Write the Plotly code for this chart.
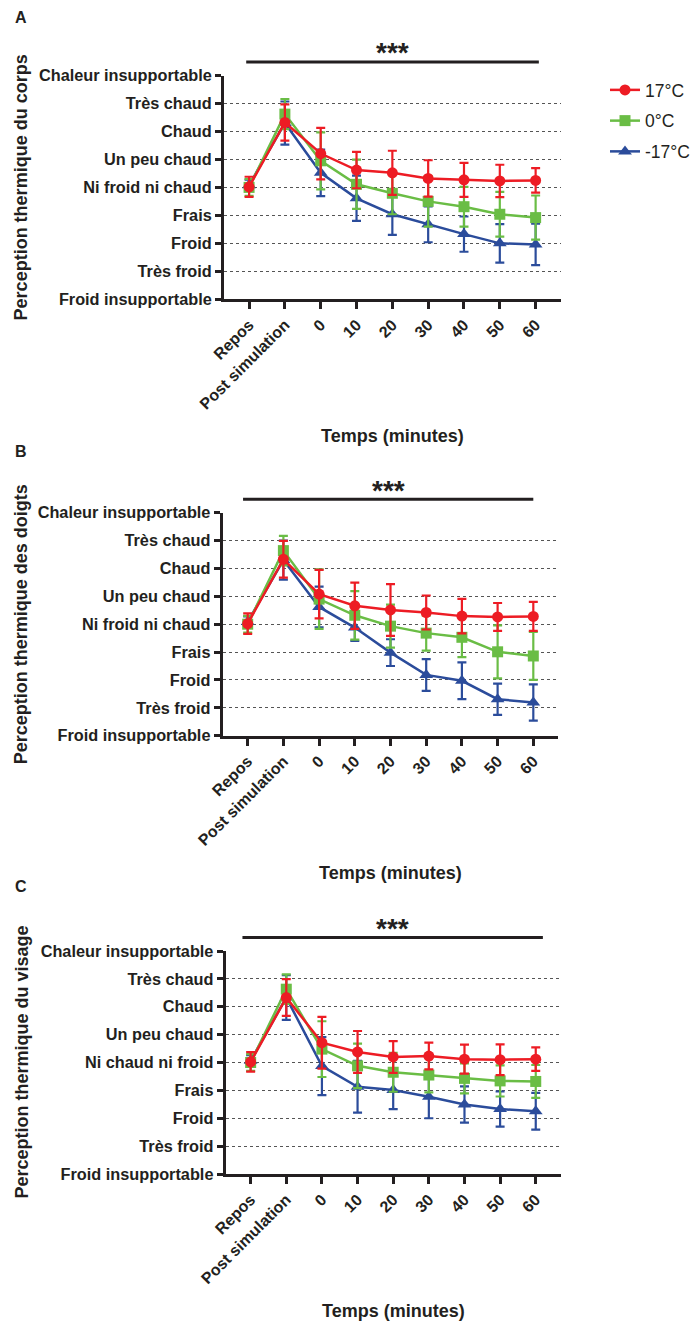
import plotly.graph_objects as go

# ---------------- data ----------------
x_labels = ["Repos", "Post simulation", "0", "10", "20", "30", "40", "50", "60"]
y_labels_a = ["Froid insupportable", "Très froid", "Froid", "Frais", "Ni froid ni chaud",
              "Un peu chaud", "Chaud", "Très chaud", "Chaleur insupportable"]
y_labels_c = ["Froid insupportable", "Très froid", "Froid", "Frais", "Ni chaud ni froid",
              "Un peu chaud", "Chaud", "Très chaud", "Chaleur insupportable"]
y_levels = [-4, -3, -2, -1, 0, 1, 2, 3, 4]
series_names = ["17°C", "0°C", "-17°C"]

# Panel A : corps
red_A = [0.02, 2.32, 1.21, 0.62, 0.52, 0.32, 0.27, 0.23, 0.25]
red_A_err = [0.36, 0.65, 0.92, 0.65, 0.79, 0.65, 0.61, 0.58, 0.44]
green_A = [0.00, 2.62, 0.95, 0.11, -0.21, -0.50, -0.69, -0.96, -1.08]
green_A_err = [0.30, 0.54, 1.02, 0.88, 0.75, 0.90, 0.71, 0.80, 0.79]
blue_A = [0.08, 2.30, 0.52, -0.39, -0.96, -1.32, -1.67, -2.00, -2.04]
blue_A_err = [0.20, 0.77, 0.83, 0.81, 0.74, 0.64, 0.63, 0.69, 0.74]

# Panel B : doigts
red_B = [0.02, 2.33, 1.08, 0.66, 0.51, 0.42, 0.29, 0.26, 0.28]
red_B_err = [0.37, 0.66, 0.87, 0.83, 0.93, 0.61, 0.62, 0.50, 0.52]
green_B = [0.00, 2.64, 0.90, 0.32, -0.07, -0.32, -0.47, -0.99, -1.14]
green_B_err = [0.30, 0.53, 1.07, 0.87, 0.77, 0.63, 0.71, 0.95, 0.86]
blue_B = [0.08, 2.30, 0.62, -0.12, -1.02, -1.82, -2.03, -2.69, -2.81]
blue_B_err = [0.20, 0.70, 0.73, 0.48, 0.48, 0.57, 0.66, 0.56, 0.65]

# Panel C : visage
red_C = [0.02, 2.33, 0.71, 0.38, 0.20, 0.23, 0.12, 0.10, 0.12]
red_C_err = [0.35, 0.66, 0.93, 0.75, 0.57, 0.48, 0.52, 0.55, 0.42]
green_C = [0.00, 2.63, 0.48, -0.12, -0.35, -0.45, -0.57, -0.66, -0.68]
green_C_err = [0.30, 0.53, 1.00, 0.80, 0.70, 0.62, 0.54, 0.56, 0.59]
blue_C = [0.06, 2.33, -0.13, -0.87, -0.99, -1.23, -1.51, -1.67, -1.75]
blue_C_err = [0.20, 0.80, 1.04, 0.93, 0.68, 0.77, 0.65, 0.63, 0.66]

y_titles = ["Perception thermique du corps", "Perception thermique des doigts",
            "Perception thermique du visage"]
panel_letters = ["A", "B", "C"]
x_title = "Temps (minutes)"
signif = "***"
signif_span = [(-0.08, 8.09), (-0.13, 8.0), (-0.23, 8.2)]

# ---------------- style ----------------
OFF = 8                      # page body margin of the browser
W, H = 699 - OFF, 1324 - OFF
FONT = "Liberation Sans, Arial, sans-serif"
INK = "#231F20"
colors = {"17°C": "#ED1C24", "0°C": "#6ABD45", "-17°C": "#2B4C9B"}
symbols = {"17°C": "circle", "0°C": "square", "-17°C": "triangle-up"}
msize = {"17°C": 11, "0°C": 11, "-17°C": 12}
rank = {"17°C": 1, "0°C": 2, "-17°C": 3}


def px(xp):
    return (xp - OFF) / W


def py(yp):
    return 1 - (yp - OFF) / H


# pixel boxes (in window pixels) for each panel: (left, right, top, bottom)
boxes = [(224, 560.7, 75.5, 299.3), (222.7, 558.3, 512.7, 735.7), (225.7, 560.7, 951, 1174)]
xr = [-0.7, 8.7]

panels = [
    {"17°C": (red_A, red_A_err), "0°C": (green_A, green_A_err), "-17°C": (blue_A, blue_A_err)},
    {"17°C": (red_B, red_B_err), "0°C": (green_B, green_B_err), "-17°C": (blue_B, blue_B_err)},
    {"17°C": (red_C, red_C_err), "0°C": (green_C, green_C_err), "-17°C": (blue_C, blue_C_err)},
]
ylabel_sets = [y_labels_a, y_labels_a, y_labels_c]

fig = go.Figure()
xpos = list(range(len(x_labels)))

for p, data in enumerate(panels):
    xa = "x" if p == 0 else f"x{p+1}"
    ya = "y" if p == 0 else f"y{p+1}"
    for name in ["-17°C", "0°C", "17°C"]:
        vals, errs = data[name]
        fig.add_trace(go.Scatter(
            x=xpos, y=vals, xaxis=xa, yaxis=ya,
            mode="lines+markers", name=name,
            legendgroup=name, legendrank=rank[name], showlegend=(p == 0),
            line=dict(color=colors[name], width=2.5),
            marker=dict(symbol=symbols[name], size=msize[name], color=colors[name]),
            error_y=dict(type="data", array=errs, visible=True,
                         color=colors[name], thickness=2.2, width=4.5),
            cliponaxis=False,
        ))

layout = dict(
    width=W, height=H,
    margin=dict(l=0, r=0, t=0, b=0, autoexpand=False),
    paper_bgcolor="white", plot_bgcolor="white",
    font=dict(family=FONT, color=INK),
    showlegend=True,
    legend=dict(x=px(605), y=py(72), xanchor="left", yanchor="top",
                traceorder="grouped", tracegroupgap=5,
                font=dict(size=17.5, family=FONT, color=INK),
                bgcolor="rgba(0,0,0,0)"),
)

annotations = []
shapes = []
for p in range(3):
    l, r, t, b = boxes[p]
    sfx = "" if p == 0 else str(p + 1)
    layout["xaxis" + sfx] = dict(
        domain=[px(l), px(r)], anchor="y" + sfx, range=xr,
        tickmode="array", tickvals=xpos, ticktext=x_labels, tickangle=-45,
        ticks="outside", ticklen=7, tickwidth=2.5, tickcolor=INK,
        showline=True, linewidth=3, linecolor=INK, showgrid=False, zeroline=False,
        tickfont=dict(size=16, family=FONT, color=INK, weight="bold"),
        fixedrange=True,
    )
    layout["yaxis" + sfx] = dict(
        domain=[py(b), py(t)], anchor="x" + sfx, range=[-4, 4],
        tickmode="array", tickvals=y_levels, ticktext=ylabel_sets[p],
        ticks="outside", ticklen=6, tickwidth=2.5, tickcolor=INK,
        showline=True, linewidth=3, linecolor=INK,
        showgrid=True, gridcolor="#555555", gridwidth=1, griddash="dot",
        zeroline=False,
        tickfont=dict(size=16.3, family=FONT, color=INK, weight="bold"),
        fixedrange=True,
    )
    # y title
    annotations.append(dict(
        text=y_titles[p], textangle=-90, xref="paper", yref="y%s domain" % sfx,
        x=px(21), y=0.5, xanchor="center", yanchor="middle", showarrow=False,
        font=dict(size=18, family=FONT, color=INK, weight="bold")))
    # x title
    annotations.append(dict(
        text=x_title, xref="x%s domain" % sfx, yref="paper",
        x=0.5, y=py(b + 137), xanchor="center", yanchor="middle", showarrow=False,
        font=dict(size=18, family=FONT, color=INK, weight="bold")))
    # panel letter
    letter_y = [17.5, 452, 886][p]
    annotations.append(dict(
        text=panel_letters[p], xref="paper", yref="paper",
        x=px(21.5), y=py(letter_y), xanchor="center", yanchor="middle", showarrow=False,
        font=dict(size=16, family=FONT, color=INK, weight="bold")))
    # significance bar
    s0, s1 = signif_span[p]
    f0 = (s0 - xr[0]) / (xr[1] - xr[0])
    f1 = (s1 - xr[0]) / (xr[1] - xr[0])
    ybar = 1 + 13.5 / (b - t)
    shapes.append(dict(type="line", xref="x%s domain" % sfx, yref="y%s domain" % sfx,
                       x0=f0, x1=f1, y0=ybar, y1=ybar,
                       line=dict(color=INK, width=3)))
    ystar = 1 + (13.5 + 9) / (b - t)
    annotations.append(dict(
        text=signif, xref="x%s domain" % sfx, yref="y%s domain" % sfx,
        x=(f0 + f1) / 2, y=ystar, xanchor="center", yanchor="middle", showarrow=False,
        font=dict(size=28, family=FONT, color=INK, weight="bold")))

layout["annotations"] = annotations
layout["shapes"] = shapes
fig.update_layout(**layout)

fig.write_html("out.html")
